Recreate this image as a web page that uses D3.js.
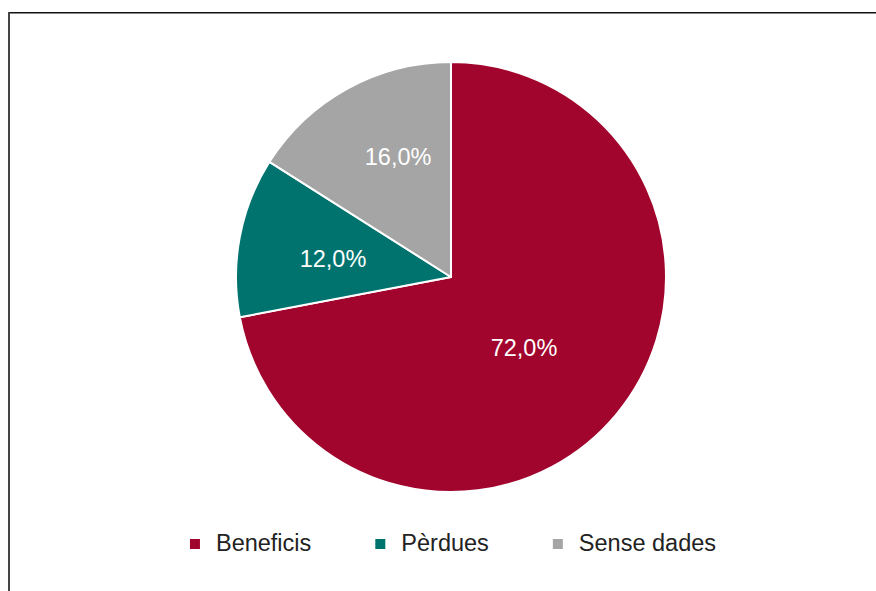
<!DOCTYPE html>
<html>
<head>
<meta charset="utf-8">
<script src="https://cdn.jsdelivr.net/npm/d3@7"></script>
<style>
  html, body { margin: 0; padding: 0; background: #fff; }
  svg { display: block; }
</style>
</head>
<body>
<svg id="chart" width="876" height="591"></svg>
<script>
const categories = ["Beneficis", "Pèrdues", "Sense dades"];
const values = [72.0, 12.0, 16.0];
const labels = ["72,0%", "12,0%", "16,0%"];
const colors = ["#A1052D", "#00736F", "#A5A5A5"];

const W = 876, H = 591;
const cx = 451, cy = 277, R = 215;
// label placement (style): radius factor and angular nudge (degrees)
const labelRadiusFactor = [0.472, 0.556, 0.612];
const labelAngleNudge = [4.4, -1.7, 5.1];
const font = "'Liberation Sans', Arial, Helvetica, sans-serif";

const svg = d3.select("#chart");

// frame
svg.append("line").attr("x1", 8).attr("x2", W).attr("y1", 12.75).attr("y2", 12.75)
  .attr("stroke", "#111").attr("stroke-width", 1.5);
svg.append("line").attr("x1", 9).attr("x2", 9).attr("y1", 12).attr("y2", H)
  .attr("stroke", "#444").attr("stroke-width", 2);

const data = categories.map((c, i) => ({ name: c, value: values[i], label: labels[i], color: colors[i] }));

const pie = d3.pie().value(d => d.value).sort(null).startAngle(0).endAngle(2 * Math.PI);
const arcs = pie(data);
const arc = d3.arc().innerRadius(0).outerRadius(R);

const g = svg.append("g").attr("transform", `translate(${cx},${cy})`);
g.selectAll("path.slice").data(arcs).enter().append("path")
  .attr("class", "slice")
  .attr("d", arc)
  .attr("fill", d => d.data.color)
  .attr("stroke", "#fff")
  .attr("stroke-width", 2)
  .attr("stroke-linejoin", "round");

g.selectAll("text.lbl").data(arcs).enter().append("text")
  .attr("class", "lbl")
  .attr("transform", (d, i) => {
    const rr = R * labelRadiusFactor[i];
    const a = (d.startAngle + d.endAngle) / 2 + labelAngleNudge[i] * Math.PI / 180;
    const c = d3.arc().innerRadius(rr).outerRadius(rr).centroid({ startAngle: a, endAngle: a });
    return `translate(${c[0]},${c[1]})`;
  })
  .attr("text-anchor", "middle")
  .attr("dy", "0.36em")
  .attr("fill", "#fff")
  .style("font-family", font)
  .style("font-size", "23.5px")
  .text(d => d.data.label);

// legend
const legend = svg.append("g");
const sq = 10, gapText = 16, gapItem = 64, legendCx = 453, legendBase = 551;
const items = legend.selectAll("g.item").data(data).enter().append("g").attr("class", "item");
items.append("rect").attr("width", sq).attr("height", sq).attr("y", legendBase - 12)
  .attr("fill", d => d.color);
items.append("text").attr("x", sq + gapText).attr("y", legendBase)
  .attr("fill", "#222")
  .style("font-family", font)
  .style("font-size", "23.5px")
  .text(d => d.name);
let widths = [];
items.each(function() {
  widths.push(sq + gapText + d3.select(this).select("text").node().getComputedTextLength());
});
const total = d3.sum(widths) + gapItem * (widths.length - 1);
let x0 = legendCx - total / 2;
items.attr("transform", (d, i) => {
  const t = `translate(${x0},0)`;
  x0 += widths[i] + gapItem;
  return t;
});
</script>
</body>
</html>
